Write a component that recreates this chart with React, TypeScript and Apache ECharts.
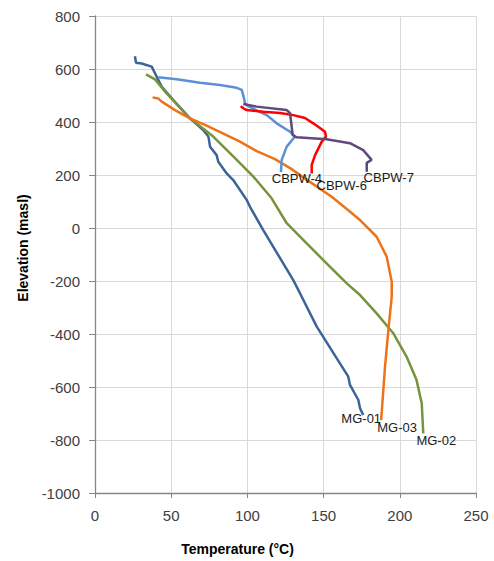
import React, { useEffect, useRef } from "react";
import * as echarts from "echarts";

// Temperature (°C), Elevation (masl) pairs
const mg01: number[][] = [
  [26.2, 648], [26.9, 624], [30.6, 621], [37.2, 609], [40.5, 571], [43.8, 533],
  [51.4, 483], [62.3, 414], [71, 370], [74.4, 345], [75.5, 307], [79.8, 275],
  [80.9, 250], [86.4, 206], [90.7, 181], [99.5, 106], [101.7, 80], [110.4, -8],
  [130, -196], [134.5, -246], [145.5, -372], [166.2, -561], [167.3, -592],
  [172.8, -649], [173.9, -680], [176, -706],
];
const mg02: number[][] = [
  [33.5, 580], [39.4, 561], [47, 508], [62.3, 414], [77.6, 345], [93, 257],
  [103.9, 194], [115.9, 112], [125.8, 18], [138.9, -58], [149.8, -121],
  [165.2, -209], [173.9, -253], [184.8, -322], [195.7, -397], [204.5, -486],
  [211, -574], [214.4, -662], [215.4, -775],
];
const mg03: number[][] = [
  [37.8, 493], [41.5, 489], [43.8, 477], [52.5, 445], [62.3, 414], [72.2, 389],
  [84.2, 356], [95.1, 326], [106.1, 290], [118.1, 260], [128, 226], [141, 174],
  [155.3, 118], [165.2, 72], [173.9, 30], [184.8, -33], [191.4, -108],
  [194.7, -203], [194.7, -259], [192.5, -385], [190.3, -523], [188.1, -699],
  [187.7, -725],
];
const cbpw4: number[][] = [
  [41.5, 569], [53.6, 561], [68.9, 548], [82, 540], [93, 529], [96.3, 521],
  [97.8, 489], [98.4, 471], [99.5, 464], [105.6, 445], [112.7, 426], [119.2, 395],
  [128, 363], [131.2, 345], [125.8, 307], [122.5, 257], [122, 211],
];
const cbpw6: number[][] = [
  [95.6, 460], [97.3, 452], [99.5, 445], [110.4, 439], [121.4, 434], [130.1, 426],
  [137.8, 415], [143.2, 395], [147.6, 377], [150.9, 363], [151.6, 345],
  [148.8, 326], [144.4, 275], [142.2, 238], [142.2, 206],
];
const cbpw7: number[][] = [
  [97.3, 468], [106, 458], [125.8, 445], [128, 433], [129.7, 351], [132.3, 342],
  [152, 335], [167.3, 320], [176, 294], [181.5, 257], [178.3, 246], [178.3, 212],
];

const seriesNames = ["MG-01", "MG-02", "MG-03", "CBPW-4", "CBPW-6", "CBPW-7"];
const seriesData = [mg01, mg02, mg03, cbpw4, cbpw6, cbpw7];
const seriesColors = ["#3C6496", "#77933C", "#EE7318", "#5B8FD6", "#FF0000", "#604A7B"];
const labelOffsets = [[-2, 3], [13, 7], [16, 7], [16, 6], [30, 12], [22, 6]];

const xTicks = { min: 0, max: 250, interval: 50 };
const yTicks = { min: -1000, max: 800, interval: 200 };

export default function App() {
  const ref = useRef<HTMLDivElement>(null);
  useEffect(() => {
    if (!ref.current) return;
    const chart = echarts.init(ref.current, null, { renderer: "svg" });
    const font = "'Liberation Sans', Arial, sans-serif";
    chart.setOption({
      animation: false,
      backgroundColor: "#ffffff",
      grid: { left: 95, right: 18, top: 16, bottom: 68 },
      xAxis: {
        type: "value",
        ...xTicks,
        axisLine: { onZero: false, lineStyle: { color: "#868686", width: 1.3 } },
        axisTick: { show: true, length: 5, lineStyle: { color: "#868686" } },
        axisLabel: {
          color: "#404040",
          fontSize: 15,
          fontFamily: font,
          margin: 15,
          formatter: (v: number) => String(v),
        },
        splitLine: { show: true, lineStyle: { color: "#D9D9D9", width: 1 } },
      },
      yAxis: {
        type: "value",
        ...yTicks,
        axisLine: { show: true, onZero: false, lineStyle: { color: "#868686", width: 1.3 } },
        axisTick: { show: true, length: 6, lineStyle: { color: "#868686" } },
        axisLabel: {
          color: "#404040",
          fontSize: 15,
          fontFamily: font,
          margin: 15,
          formatter: (v: number) => String(v),
        },
        splitLine: { show: true, lineStyle: { color: "#D9D9D9", width: 1 } },
      },
      graphic: [
        {
          type: "text",
          x: 237.5,
          y: 549,
          style: {
            text: "Temperature (°C)",
            fontSize: 14,
            fontWeight: "bold",
            fontFamily: font,
            fill: "#000000",
            textAlign: "center",
            textVerticalAlign: "middle",
          },
        },
        {
          type: "text",
          x: 22.5,
          y: 248,
          rotation: Math.PI / 2,
          style: {
            text: "Elevation (masl)",
            fontSize: 14,
            fontWeight: "bold",
            fontFamily: font,
            fill: "#000000",
            textAlign: "center",
            textVerticalAlign: "middle",
          },
        },
      ],
      series: seriesNames.map((name, i) => {
        const d = seriesData[i];
        return {
          name,
          type: "line",
          data: d,
          showSymbol: false,
          symbol: "none",
          lineStyle: { color: seriesColors[i], width: 2.5 },
          itemStyle: { color: seriesColors[i] },
          markPoint: {
            symbol: "circle",
            symbolSize: 1,
            itemStyle: { color: "rgba(0,0,0,0)" },
            label: {
              show: true,
              position: "inside",
              formatter: name,
              color: "#1a1a1a",
              fontSize: 13,
              fontFamily: font,
              offset: labelOffsets[i],
            },
            data: [{ coord: d[d.length - 1] }],
          },
        };
      }),
    });
    return () => chart.dispose();
  }, []);
  return (
    <div
      ref={ref}
      style={{ position: "absolute", left: 0, top: 0, width: 494, height: 561 }}
    />
  );
}
